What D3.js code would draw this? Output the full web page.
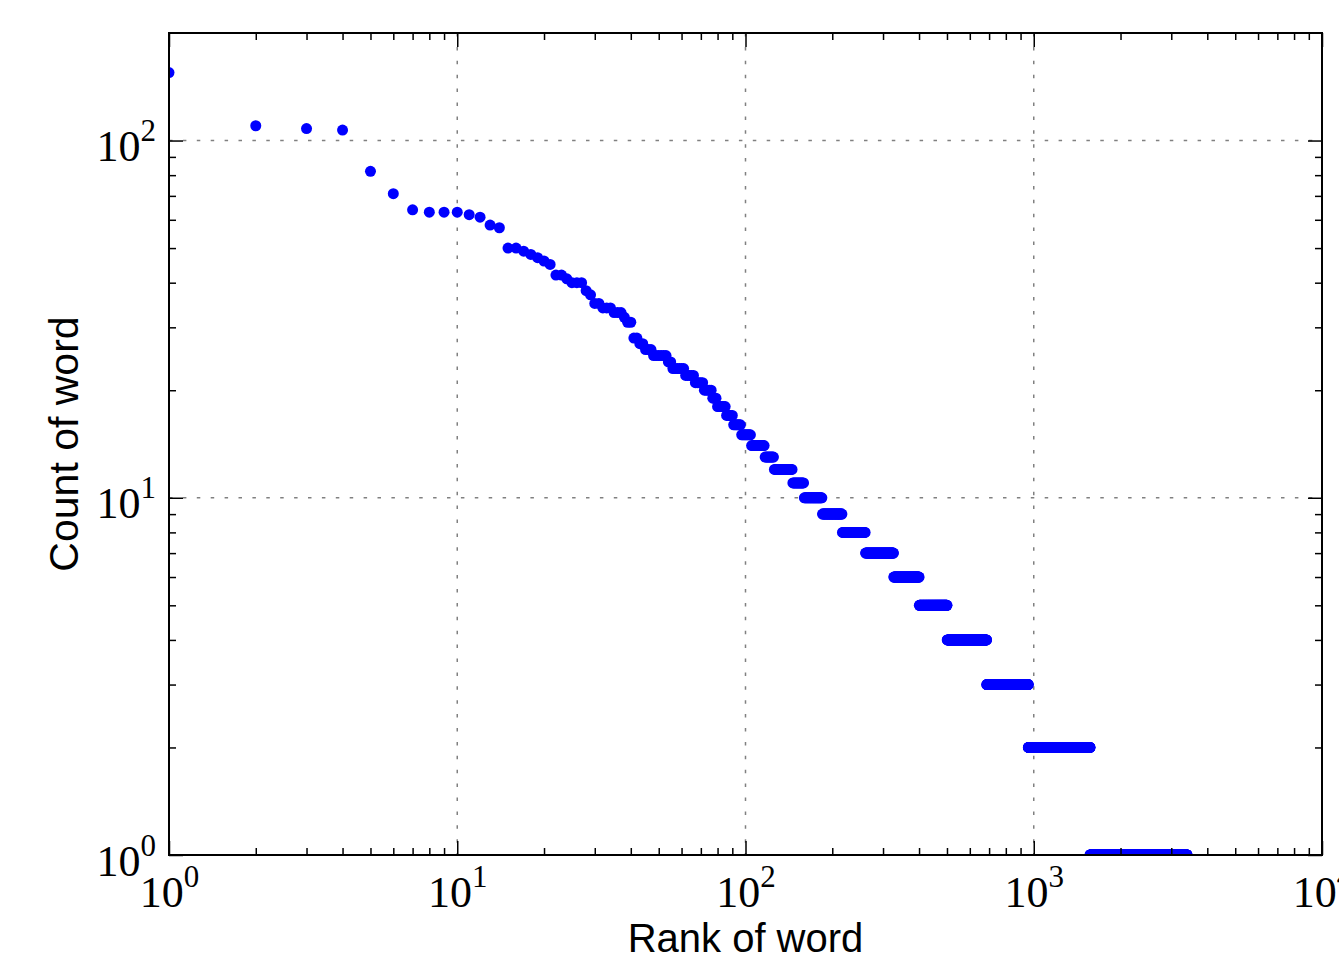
<!DOCTYPE html>
<html>
<head>
<meta charset="utf-8">
<script src="https://cdn.jsdelivr.net/npm/d3@7"></script>
<style>
body{margin:0;background:#fff;}
svg{display:block;}
.axis line{stroke:#000;stroke-width:1.5;}
.axis path{display:none;}
</style>
</head>
<body>
<svg></svg>
<script>
// word counts (descending) and how many words share each count
var wordCounts = [155,110,108,107,82,71,64,63,62,61,58,57,
                  50,49,48,47,46,45,42,41,40,38,37,35,34,33,32,31,
                  28,27,26,25,24,23,22,21,20,19,18,17,16,15,
                  14,13,12,11,10,9,8,7,6,5,4,3,2,1]
var wordsWithCount = [1,1,1,1,1,1,1,3,1,1,1,1,
                      2,1,1,1,1,1,2,1,3,1,1,2,3,3,1,2,
                      2,2,3,6,2,6,5,5,5,3,6,5,6,8,
                      12,9,20,14,25,32,44,66,74,100,186,271,610,1833]

// axis decades
var xDecades = [0,1,2,3,4]
var yDecades = [0,1,2]

var screen = {width:1339,height:953}
var margins = {top:33,right:17,bottom:98,left:169}
var width = screen.width-margins.left-margins.right
var height = screen.height-margins.top-margins.bottom

// expand the runs into one point per word rank
var words = []
var rank = 1
wordCounts.forEach(function(c,i)
{
    for(var j=0;j<wordsWithCount[i];j++)
    {
        words.push({rank:rank,count:c})
        rank++
    }
})

var svg = d3.select("svg")
    .attr("width",screen.width)
    .attr("height",screen.height)

var graph = svg.append("g")
    .attr("transform","translate("+margins.left+","+margins.top+")")

var xScale = d3.scaleLog()
    .domain([1,1e4])
    .range([0,width])

var yScale = d3.scaleLog()
    .domain([1,200])
    .range([height,0])

var isMajor = function(v){ return Math.abs(Math.log10(v)-Math.round(Math.log10(v)))<1e-9 }
var xMajor = xDecades.map(function(d){ return Math.pow(10,d) })
var yMajor = yDecades.map(function(d){ return Math.pow(10,d) })
var xMinor = xScale.ticks().filter(function(v){ return !isMajor(v) })
var yMinor = yScale.ticks().filter(function(v){ return !isMajor(v) && v<200 })

// dotted grid at the decades
graph.append("g")
    .selectAll("line.gx")
    .data(xMajor.slice(1,-1))
    .enter()
    .append("line")
    .attr("x1",function(d){ return xScale(d) })
    .attr("x2",function(d){ return xScale(d) })
    .attr("y1",0)
    .attr("y2",height)
graph.append("g")
    .selectAll("line.gy")
    .data(yMajor.slice(1))
    .enter()
    .append("line")
    .attr("x1",0)
    .attr("x2",width)
    .attr("y1",function(d){ return yScale(d) })
    .attr("y2",function(d){ return yScale(d) })
graph.selectAll("line")
    .attr("stroke","#808080")
    .attr("stroke-width",1.5)
    .attr("stroke-dasharray","3.5,10.4")

svg.append("defs")
    .append("clipPath")
    .attr("id","plotclip")
    .append("rect")
    .attr("width",width)
    .attr("height",height)

graph.append("g")
    .attr("clip-path","url(#plotclip)")
    .selectAll("circle")
    .data(words)
    .enter()
    .append("circle")
    .attr("fill","#0000ff")
    .attr("r",5.5)
    .attr("cx",function(d){ return xScale(d.rank) })
    .attr("cy",function(d){ return yScale(d.count) })

// ticks on all four sides, pointing in
var addAxis = function(axisFn,scale,values,size,transform)
{
    return graph.append("g")
        .classed("axis",true)
        .attr("transform",transform)
        .call(axisFn(scale).tickValues(values).tickSize(-size).tickFormat(""))
}
addAxis(d3.axisBottom,xScale,xMinor,7,"translate(0,"+height+")")
var xLab = addAxis(d3.axisBottom,xScale,xMajor,14,"translate(0,"+height+")")
addAxis(d3.axisTop,xScale,xMinor,7,"translate(0,0)")
addAxis(d3.axisTop,xScale,xMajor,14,"translate(0,0)")
addAxis(d3.axisLeft,yScale,yMinor,7,"translate(0,0)")
var yLab = addAxis(d3.axisLeft,yScale,yMajor,14,"translate(0,0)")
addAxis(d3.axisRight,yScale,yMinor,7,"translate("+width+",0)")
addAxis(d3.axisRight,yScale,yMajor,14,"translate("+width+",0)")

var powerLabel = function(text,d)
{
    text.text(null)
        .attr("font-family","'Liberation Serif', serif")
        .attr("font-size",44)
        .attr("fill","#000")
    text.append("tspan").text("10")
    text.append("tspan")
        .attr("dy",-20)
        .attr("font-size",31)
        .text(Math.round(Math.log10(d)))
}

xLab.selectAll(".tick text")
    .attr("y",52)
    .attr("dy",null)
    .attr("text-anchor","middle")
    .each(function(d){ powerLabel(d3.select(this),d) })

yLab.selectAll(".tick text")
    .attr("x",-13)
    .attr("y",20)
    .attr("dy",null)
    .attr("text-anchor","end")
    .each(function(d){ powerLabel(d3.select(this),d) })

// frame
graph.append("rect")
    .attr("width",width)
    .attr("height",height)
    .attr("fill","none")
    .attr("stroke","#000")
    .attr("stroke-width",2)

svg.append("text")
    .attr("x",margins.left+width/2)
    .attr("y",952)
    .attr("text-anchor","middle")
    .attr("font-family","'Liberation Sans', sans-serif")
    .attr("font-size",40)
    .text("Rank of word")

svg.append("text")
    .attr("transform","translate(78,"+(margins.top+height/2)+") rotate(-90)")
    .attr("text-anchor","middle")
    .attr("font-family","'Liberation Sans', sans-serif")
    .attr("font-size",41)
    .text("Count of word")
</script>
</body>
</html>
